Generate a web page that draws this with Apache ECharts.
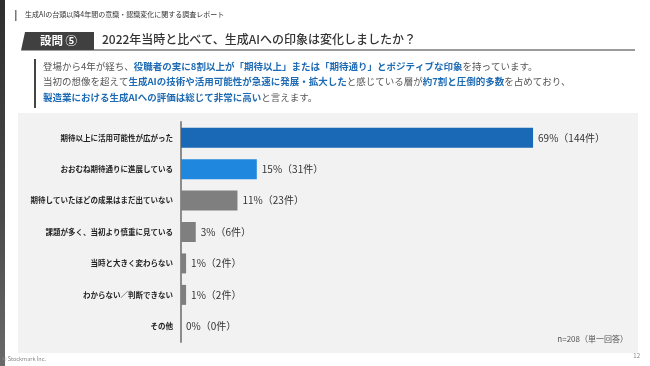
<!DOCTYPE html>
<html>
<head>
<meta charset="utf-8">
<script src="https://cdn.jsdelivr.net/npm/echarts@6/dist/echarts.min.js"></script>
<style>
  html, body { margin: 0; padding: 0; background: #fff; }
  #main { width: 650px; height: 366px; }
</style>
</head>
<body>
<div id="main"></div>
<script>
(() => {
  // 回答項目
  const categories = [
    '期待以上に活用可能性が広がった',
    'おおむね期待通りに進展している',
    '期待していたほどの成果はまだ出ていない',
    '課題が多く、当初より慎重に見ている',
    '当時と大きく変わらない',
    'わからない／判断できない',
    'その他'
  ];
  const percents = [69.2, 14.9, 11.1, 2.9, 1.0, 1.0, 0];
  const pctLabels = [69, 15, 11, 3, 1, 1, 0];
  const counts = [144, 31, 23, 6, 2, 2, 0];
  const barColors = ['#1a69b6', '#1f88de', '#7f7f7f', '#7f7f7f', '#7f7f7f', '#7f7f7f', '#7f7f7f'];

  const FONT = '"Noto Sans CJK JP", "Noto Sans", sans-serif';
  const BLUE = '#1e6bb4';
  const GREY = '#555555';

  function bodyLine(y, parts) {
    return {
      type: 'text',
      left: 43,
      top: y - 7,
      silent: true,
      style: {
        text: parts.map(p => `{${p[1] ? 'b' : 'n'}|${p[0]}}`).join(''),
        rich: {
          n: { fontSize: 9.5, fontFamily: FONT, fill: GREY },
          b: { fontSize: 9.5, fontFamily: FONT, fill: BLUE, fontWeight: 'bold' }
        }
      }
    };
  }

  const myChart = echarts.init(document.getElementById('main'));

  const option = {
    backgroundColor: '#ffffff',
    animation: false,
    textStyle: { fontFamily: FONT },
    graphic: [
      // 左端の帯
      {
        type: 'rect', z: -10, silent: true,
        shape: { x: 0, y: 0, width: 5, height: 366 },
        style: {
          fill: new echarts.graphic.LinearGradient(0, 0, 0, 1, [
            { offset: 0, color: '#2e2e2e' },
            { offset: 0.6, color: '#4a4a4a' },
            { offset: 1, color: '#6a6a6a' }
          ])
        }
      },
      // チャート背景
      {
        type: 'rect', z: -10, silent: true,
        shape: { x: 18, y: 113, width: 620, height: 240 },
        style: { fill: '#f2f2f2' }
      },
      // 上部の見出し
      {
        type: 'rect', silent: true,
        shape: { x: 15, y: 10, width: 1.5, height: 11 },
        style: { fill: '#777' }
      },
      {
        type: 'text', left: 25, top: 11, silent: true,
        style: {
          text: '生成AIの台頭以降4年間の意識・認識変化に関する調査レポート',
          fontSize: 7, fontFamily: FONT, fill: '#333'
        }
      },
      // 設問ボックス
      {
        type: 'polygon', silent: true,
        shape: { points: [[25, 32], [94, 32], [94, 50.5], [21, 50.5]] },
        style: { fill: '#404040' }
      },
      {
        type: 'text', left: 40, top: 34.5, silent: true,
        style: {
          text: '設問 ⑤', fontSize: 11.5, fontWeight: 'bold',
          fontFamily: FONT, fill: '#ffffff'
        }
      },
      {
        type: 'line', silent: true,
        shape: { x1: 94, y1: 50, x2: 635, y2: 50 },
        style: { stroke: '#7a7a7a', lineWidth: 1.5 }
      },
      {
        type: 'text', left: 102, top: 33.5, silent: true,
        style: {
          text: '2022年当時と比べて、生成AIへの印象は変化しましたか？',
          fontSize: 12, fontWeight: 500, fontFamily: FONT, fill: '#333'
        }
      },
      // 本文
      {
        type: 'rect', silent: true,
        shape: { x: 34, y: 59, width: 2, height: 49 },
        style: { fill: '#444' }
      },
      bodyLine(68.5, [
        ['登場から4年が経ち、', false],
        ['役職者の実に8割以上が「期待以上」または「期待通り」とポジティブな印象', true],
        ['を持っています。', false]
      ]),
      bodyLine(84, [
        ['当初の想像を超えて', false],
        ['生成AIの技術や活用可能性が急速に発展・拡大した', true],
        ['と感じている層が', false],
        ['約7割と圧倒的多数', true],
        ['を占めており、', false]
      ]),
      bodyLine(99.5, [
        ['製造業における生成AIへの評価は総じて非常に高い', true],
        ['と言えます。', false]
      ]),
      // 注記
      {
        type: 'text', right: 22, top: 335, silent: true,
        style: {
          text: 'n=208（単一回答）', fontSize: 8, fontFamily: FONT, fill: '#555'
        }
      },
      {
        type: 'text', left: 2, top: 356, silent: true,
        style: {
          text: '© Stockmark Inc.', fontSize: 5.5, fontFamily: FONT, fill: '#888'
        }
      },
      {
        type: 'text', right: 10, top: 353, silent: true,
        style: {
          text: '12', fontSize: 6, fontFamily: FONT, fill: '#888'
        }
      }
    ],
    grid: {
      left: 181,
      top: 122,
      width: 407,
      height: 220
    },
    xAxis: {
      type: 'value',
      min: 0,
      max: 80,
      show: false
    },
    yAxis: {
      type: 'category',
      inverse: true,
      data: categories,
      axisTick: { show: false },
      axisLine: { lineStyle: { color: '#8c8c8c', width: 2 } },
      axisLabel: {
        margin: 8,
        fontSize: 7.5,
        fontWeight: 'bold',
        color: '#222',
        fontFamily: FONT
      }
    },
    series: [
      {
        type: 'bar',
        barWidth: 20,
        data: percents.map((v, i) => ({
          value: v,
          itemStyle: { color: barColors[i] }
        })),
        label: {
          show: true,
          position: 'right',
          distance: 5,
          fontSize: 10,
          color: '#333',
          fontFamily: FONT,
          formatter: p => `${pctLabels[p.dataIndex]}%（${counts[p.dataIndex]}件）`
        }
      }
    ]
  };

  myChart.setOption(option);
})()
</script>
</body>
</html>
